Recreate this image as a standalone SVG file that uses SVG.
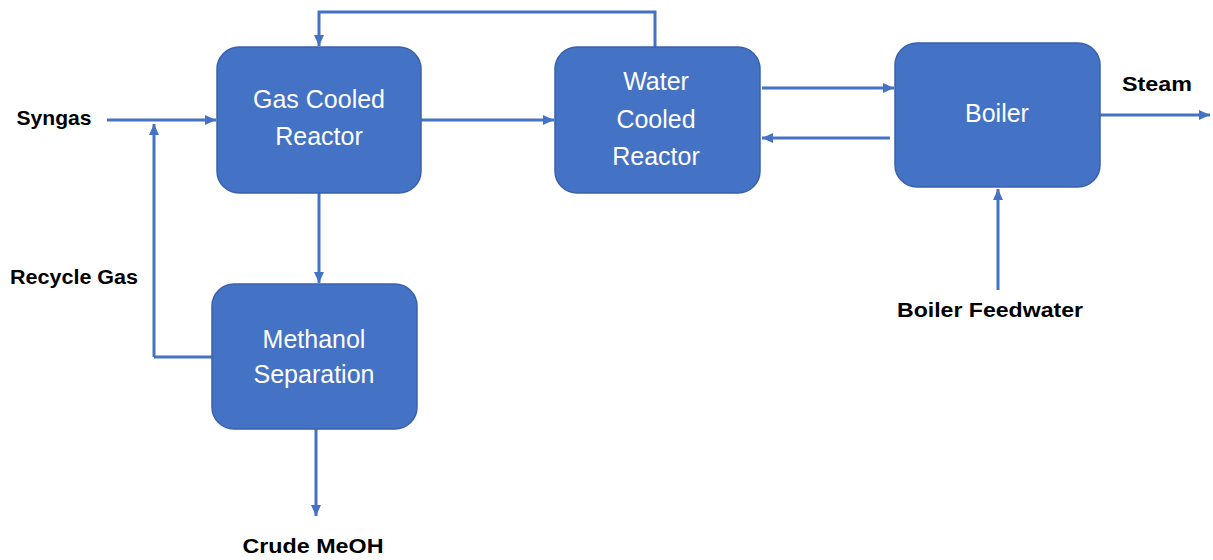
<svg xmlns="http://www.w3.org/2000/svg" width="1213" height="560" viewBox="0 0 1213 560">
<style>
.box{fill:#4472C4;stroke:#3A62AB;stroke-width:1.5}
.nt{font-family:"Liberation Sans",Arial,sans-serif;font-size:25px;fill:#fff;text-anchor:middle}
.lb{font-family:"Liberation Sans",Arial,sans-serif;font-size:21px;font-weight:bold;fill:#000;text-anchor:middle}
.c{fill:none;stroke:#4472C4;stroke-width:3;marker-end:url(#ah)}
.n{fill:none;stroke:#4472C4;stroke-width:3}
</style>
<defs>
<marker id="ah" markerUnits="userSpaceOnUse" markerWidth="12" markerHeight="12" refX="11" refY="6" orient="auto">
<path d="M0,1 L11,6 L0,11 Z" fill="#4472C4"/>
</marker>
</defs>
<rect width="1213" height="560" fill="#fff"/>
<g id="connectors">
<path class="c" d="M107,120 H216"/>
<path class="c" d="M154,357 V124"/>
<path class="n" d="M212,357 H154"/>
<path class="c" d="M655,47 V12 H319 V46"/>
<path class="c" d="M319,193 V283"/>
<path class="c" d="M421,120 H554"/>
<path class="c" d="M762,88 H894"/>
<path class="c" d="M890,138 H762"/>
<path class="c" d="M1100,115 H1210"/>
<path class="c" d="M998,290 V189"/>
<path class="c" d="M316,429 V516"/>
</g>
<g id="gas-cooled-reactor">
<rect class="box" x="217" y="47" width="204" height="146" rx="22"/>
<text class="nt" x="319" y="108">Gas Cooled</text>
<text class="nt" x="319" y="145">Reactor</text>
</g>
<g id="water-cooled-reactor">
<rect class="box" x="555" y="47" width="205" height="146" rx="22"/>
<text class="nt" x="656" y="90">Water</text>
<text class="nt" x="656" y="128">Cooled</text>
<text class="nt" x="656" y="165">Reactor</text>
</g>
<g id="boiler">
<rect class="box" x="895" y="43" width="205" height="144" rx="22"/>
<text class="nt" x="997" y="122">Boiler</text>
</g>
<g id="methanol-separation">
<rect class="box" x="212" y="284" width="205" height="145" rx="22"/>
<text class="nt" x="314" y="348">Methanol</text>
<text class="nt" x="314" y="383">Separation</text>
</g>
<g id="labels">
<text class="lb" x="54" y="125" textLength="75" lengthAdjust="spacingAndGlyphs">Syngas</text>
<text class="lb" x="74" y="284" textLength="128" lengthAdjust="spacingAndGlyphs">Recycle Gas</text>
<text class="lb" x="313" y="553" textLength="141" lengthAdjust="spacingAndGlyphs">Crude MeOH</text>
<text class="lb" x="1157" y="91" textLength="70" lengthAdjust="spacingAndGlyphs">Steam</text>
<text class="lb" x="990" y="317" textLength="186" lengthAdjust="spacingAndGlyphs">Boiler Feedwater</text>
</g>
</svg>
